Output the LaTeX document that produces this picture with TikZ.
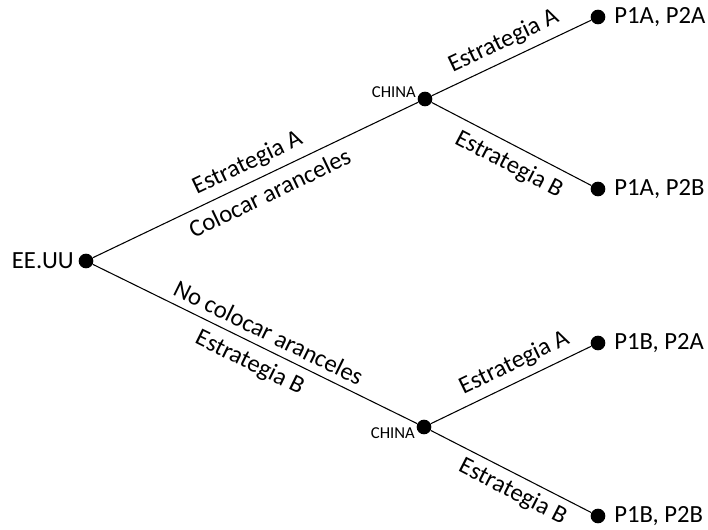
\documentclass[tikz,border=0pt]{standalone}
\usepackage{fontspec}
\setmainfont{Carlito}
\begin{document}
\begin{tikzpicture}[x=0.75pt,y=0.75pt,
    dot/.style={circle,fill=black,inner sep=0pt,minimum size=11pt},
    rama/.style={line width=0.8pt},
    txt/.style={font=\fontsize{18.5}{21}\selectfont},
    jugador/.style={font=\fontsize{12.5}{14}\selectfont,inner sep=1pt}]
        \useasboundingbox (0,0) rectangle (708,530);
        \node[dot] (usa) at (86,269) {};
        \node[dot] (chA) at (425,431) {};
        \node[dot] (chB) at (424,103) {};
        \node[dot] (tAA) at (598,513) {};
        \node[dot] (tAB) at (598,341) {};
        \node[dot] (tBA) at (598,187) {};
        \node[dot] (tBB) at (598,14) {};

        \node[txt,anchor=east] (lusa) at (usa.west) {EE.UU};
        \node[jugador,anchor=south east] (lchA) at (chA.west) {CHINA};
        \node[jugador,anchor=north east] (lchB) at ([yshift=1pt]chB.west) {CHINA};
        \node[txt,anchor=west] (lAA) at ([xshift=3pt]tAA.east) {P1A, P2A};
        \node[txt,anchor=west] (lAB) at ([xshift=3pt]tAB.east) {P1A, P2B};
        \node[txt,anchor=west] (lBA) at ([xshift=3pt]tBA.east) {P1B, P2A};
        \node[txt,anchor=west] (lBB) at ([xshift=3pt]tBB.east) {P1B, P2B};

        \draw[rama] (usa) -- (chA)
          node[txt,pos=0.5,sloped,above=2pt] (eA) {Estrategia A}
          node[txt,pos=0.52,sloped,below=3pt] (colA) {Colocar aranceles};
        \draw[rama] (usa) -- (chB)
          node[txt,pos=0.52,sloped,above=2pt] (colB) {No colocar aranceles}
          node[txt,pos=0.51,sloped,below=3pt] (eB) {Estrategia B};
        \draw[rama] (chA) -- (tAA) node[txt,pos=0.5,sloped,above=2pt] (eAA) {Estrategia A};
        \draw[rama] (chA) -- (tAB) node[txt,pos=0.54,sloped,below=3pt] (eAB) {Estrategia B};
        \draw[rama] (chB) -- (tBA) node[txt,pos=0.57,sloped,above=2pt] (eBA) {Estrategia A};
        \draw[rama] (chB) -- (tBB) node[txt,pos=0.56,sloped,below=1.5pt] (eBB) {Estrategia B};
      \end{tikzpicture}
\end{document}
